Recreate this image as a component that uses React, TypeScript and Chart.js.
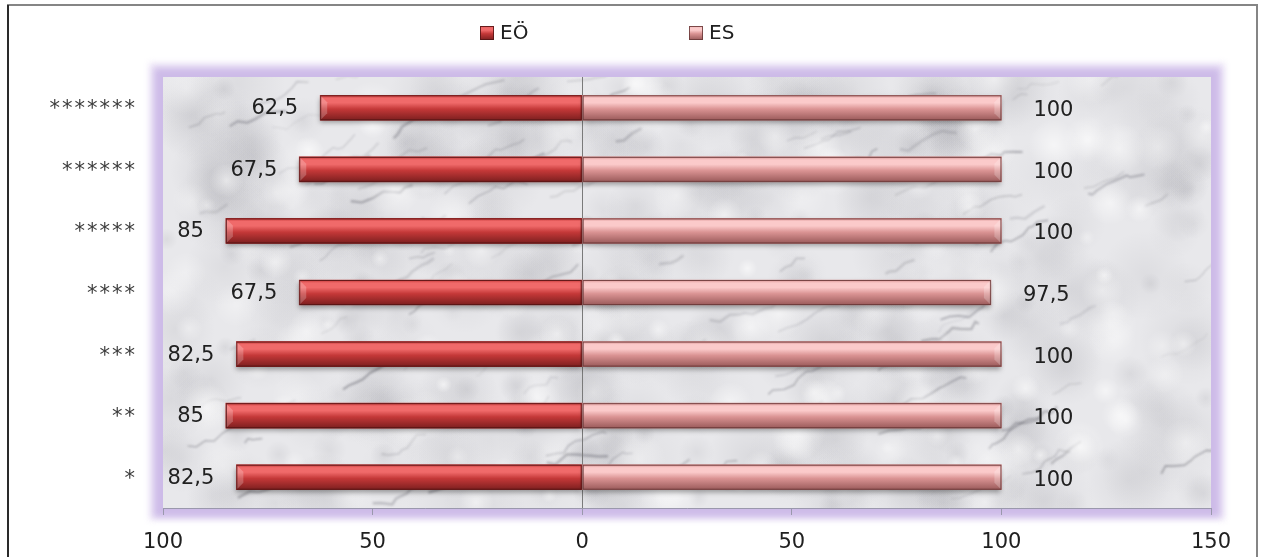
import React, { useEffect, useRef } from "react";
import { Chart, registerables } from "chart.js";

Chart.register(...registerables);

// Categories (top to bottom) and values of the two series
const categories = ["*******", "******", "*****", "****", "***", "**", "*"];
const seriesNames = ["EÖ", "ES"];
const eoValues = [62.5, 67.5, 85, 67.5, 82.5, 85, 82.5];
const esValues = [100, 100, 100, 97.5, 100, 100, 100];
const xTickValues = [-100, -50, 0, 50, 100, 150];

const FONT = "'DejaVu Sans', Verdana, sans-serif";
const W = 1268;
const H = 557;

const palettes = [
  { top: "#f06a6a", mid: "#c43838", bottom: "#7c1f1f", edge: "rgba(85,20,20,0.85)" },
  { top: "#fbcaca", mid: "#da9393", bottom: "#9a5a5a", edge: "rgba(105,55,55,0.85)" },
];

const fmt = (v: number) => String(Math.abs(v)).replace(".", ",");

// Soft grey marble used as the plot-area fill
function makeMarble(w: number, h: number): HTMLCanvasElement {
  const c = document.createElement("canvas");
  c.width = w;
  c.height = h;
  const g = c.getContext("2d")!;
  g.fillStyle = "#e8e8eb";
  g.fillRect(0, 0, w, h);
  let s = 24681;
  const rnd = () => {
    s = (s * 16807) % 2147483647;
    return s / 2147483647;
  };
  // cloudy grey mottling
  for (let i = 0; i < 420; i++) {
    const x = rnd() * w;
    const y = rnd() * h;
    const r = 10 + rnd() * 38;
    const a = 0.04 + rnd() * 0.08;
    const grad = g.createRadialGradient(x, y, 0, x, y, r);
    grad.addColorStop(0, `rgba(105,105,115,${a})`);
    grad.addColorStop(1, "rgba(105,105,115,0)");
    g.fillStyle = grad;
    g.fillRect(x - r, y - r, 2 * r, 2 * r);
  }
  // veins, mostly running up to the right
  g.filter = "blur(1.2px)";
  for (let i = 0; i < 110; i++) {
    let x = rnd() * w;
    let y = rnd() * h;
    g.beginPath();
    g.moveTo(x, y);
    const steps = 3 + Math.floor(rnd() * 7);
    for (let k = 0; k < steps; k++) {
      x += 3 + rnd() * 9;
      y += (rnd() - 0.8) * 10;
      g.lineTo(x, y);
    }
    g.strokeStyle = `rgba(80,80,90,${0.12 + rnd() * 0.3})`;
    g.lineWidth = 0.8 + rnd() * 2;
    g.stroke();
  }
  g.filter = "none";
  // bright patches
  for (let i = 0; i < 160; i++) {
    const x = rnd() * w;
    const y = rnd() * h;
    const r = 6 + rnd() * 22;
    const grad = g.createRadialGradient(x, y, 0, x, y, r);
    grad.addColorStop(0, `rgba(255,255,255,${0.25 + rnd() * 0.35})`);
    grad.addColorStop(1, "rgba(255,255,255,0)");
    g.fillStyle = grad;
    g.fillRect(x - r, y - r, 2 * r, 2 * r);
  }
  return c;
}

function barGradient(ctx: CanvasRenderingContext2D, top: number, h: number, p: typeof palettes[0]) {
  const gr = ctx.createLinearGradient(0, top, 0, top + h);
  gr.addColorStop(0, p.mid);
  gr.addColorStop(0.12, p.top);
  gr.addColorStop(0.3, p.top);
  gr.addColorStop(0.55, p.mid);
  gr.addColorStop(1, p.bottom);
  return gr;
}

const backgroundPlugin = {
  id: "backgroundFrame",
  beforeDraw(chart: any) {
    const { ctx, chartArea } = chart;
    const { left, top, right, bottom } = chartArea;
    ctx.save();
    ctx.fillStyle = "#ffffff";
    ctx.fillRect(0, 0, W, H);
    // outer frame
    ctx.strokeStyle = "#858585";
    ctx.lineWidth = 2;
    ctx.beginPath();
    ctx.moveTo(8, H + 5);
    ctx.lineTo(8, 5);
    ctx.lineTo(1257, 5);
    ctx.lineTo(1257, H + 5);
    ctx.stroke();
    ctx.strokeStyle = "#2a2a2a";
    ctx.beginPath();
    ctx.moveTo(8, H + 5);
    ctx.lineTo(8, 5);
    ctx.stroke();
    // soft lavender glow round the plot area
    ctx.filter = "blur(3px)";
    ctx.fillStyle = "#ece4f7";
    ctx.fillRect(left - 14, top - 14, right - left + 28, bottom - top + 26);
    ctx.fillStyle = "#cdbbe8";
    ctx.fillRect(left - 9, top - 9, right - left + 18, bottom - top + 18);
    ctx.filter = "none";
    const w = Math.round(right - left);
    const h = Math.round(bottom - top);
    if (!chart.$marble || chart.$marble.width !== w || chart.$marble.height !== h) {
      chart.$marble = makeMarble(w, h);
    }
    ctx.drawImage(chart.$marble, left, top);
    ctx.restore();
  },
};

const shadingPlugin = {
  id: "barShading",
  afterDatasetsDraw(chart: any) {
    const { ctx } = chart;
    ctx.save();
    chart.data.datasets.forEach((_: any, di: number) => {
      const meta = chart.getDatasetMeta(di);
      const p = palettes[di];
      meta.data.forEach((el: any) => {
        const { x, y, base, height } = el.getProps(["x", "y", "base", "height"], true);
        const l = Math.min(x, base);
        const r = Math.max(x, base);
        const t = y - height / 2;
        ctx.save();
        ctx.shadowColor = "rgba(0,0,0,0.35)";
        ctx.shadowBlur = 5;
        ctx.shadowOffsetY = 3;
        ctx.fillStyle = barGradient(ctx, t, height, p);
        ctx.fillRect(l, t, r - l, height);
        ctx.restore();
        // bevelled outer end
        const end = di === 0 ? l : r;
        const dir = di === 0 ? 1 : -1;
        const bev = 7;
        ctx.fillStyle = "rgba(255,255,255,0.22)";
        ctx.beginPath();
        ctx.moveTo(end, t);
        ctx.lineTo(end + dir * bev, t + bev);
        ctx.lineTo(end + dir * bev, t + height - bev);
        ctx.lineTo(end, t + height);
        ctx.closePath();
        ctx.fill();
        ctx.strokeStyle = p.edge;
        ctx.lineWidth = 1;
        ctx.strokeRect(l + 0.5, t + 0.5, r - l - 1, height - 1);
      });
    });
    ctx.restore();
  },
};

const textPlugin = {
  id: "chartTexts",
  afterDraw(chart: any) {
    const { ctx } = chart;
    const yScale = chart.scales.y;
    ctx.save();
    // value labels
    ctx.font = `21px ${FONT}`;
    ctx.fillStyle = "#202020";
    ctx.textBaseline = "middle";
    chart.data.datasets.forEach((ds: any, di: number) => {
      const meta = chart.getDatasetMeta(di);
      meta.data.forEach((el: any, i: number) => {
        const { x, y } = el.getProps(["x", "y"], true);
        const txt = fmt(ds.data[i]);
        if (di === 0) {
          ctx.textAlign = "right";
          ctx.fillText(txt, x - 22, y + 1);
        } else {
          ctx.textAlign = "left";
          ctx.fillText(txt, x + 32, y + 3);
        }
      });
    });
    // category labels
    ctx.fillStyle = "#3c3c3c";
    ctx.textAlign = "right";
    (ctx as any).letterSpacing = "2px";
    chart.data.labels.forEach((lab: string, i: number) => {
      ctx.fillText(lab, 137, yScale.getPixelForValue(i) + 2);
    });
    (ctx as any).letterSpacing = "0px";
    // legend
    const items = [
      { x: 480, label: chart.data.datasets[0].label, p: palettes[0] },
      { x: 689, label: chart.data.datasets[1].label, p: palettes[1] },
    ];
    ctx.font = `20px ${FONT}`;
    ctx.textAlign = "left";
    items.forEach((it) => {
      const bt = 26;
      ctx.fillStyle = barGradient(ctx, bt, 14, it.p);
      ctx.fillRect(it.x, bt, 14, 14);
      ctx.strokeStyle = it.p.edge;
      ctx.lineWidth = 1;
      ctx.strokeRect(it.x + 0.5, bt + 0.5, 13, 13);
      ctx.fillStyle = "#202020";
      ctx.fillText(it.label, it.x + 20, 34);
    });
    ctx.restore();
  },
};

export default function App() {
  const canvasRef = useRef<HTMLCanvasElement>(null);

  useEffect(() => {
    const canvas = canvasRef.current;
    if (!canvas) return;
    const chart = new Chart(canvas, {
      type: "bar",
      data: {
        labels: categories,
        datasets: [
          {
            label: seriesNames[0],
            data: eoValues.map((v) => -v),
            backgroundColor: palettes[0].mid,
            barThickness: 25,
          },
          {
            label: seriesNames[1],
            data: esValues,
            backgroundColor: palettes[1].mid,
            barThickness: 25,
          },
        ],
      },
      options: {
        indexAxis: "y",
        responsive: false,
        animation: false,
        devicePixelRatio: 1,
        layout: { padding: { left: 163, right: 57, top: 77, bottom: 0 } },
        plugins: {
          legend: { display: false },
          tooltip: { enabled: false },
        },
        scales: {
          x: {
            type: "linear",
            min: xTickValues[0],
            max: xTickValues[xTickValues.length - 1],
            stacked: true,
            afterBuildTicks: (scale: any) => {
              scale.ticks = xTickValues.map((value) => ({ value }));
            },
            afterFit: (scale: any) => {
              scale.height = 49;
            },
            ticks: {
              callback: (v: any) => String(Math.abs(Number(v))),
              font: { family: FONT, size: 21 },
              color: "#202020",
              padding: 15,
              maxRotation: 0,
              autoSkip: false,
            },
            grid: {
              color: (c: any) => (c.tick && c.tick.value === 0 ? "#7a7a7a" : "rgba(0,0,0,0)"),
              tickColor: "#9a98ac",
              tickLength: 7,
              drawOnChartArea: true,
            },
            border: { color: "#9a98ac", width: 1 },
          },
          y: {
            stacked: true,
            display: false,
          },
        },
      },
      plugins: [backgroundPlugin, shadingPlugin, textPlugin],
    } as any);
    return () => chart.destroy();
  }, []);

  return (
    <canvas
      ref={canvasRef}
      width={W}
      height={H}
      style={{ position: "fixed", left: 0, top: 0, display: "block" }}
    />
  );
}
